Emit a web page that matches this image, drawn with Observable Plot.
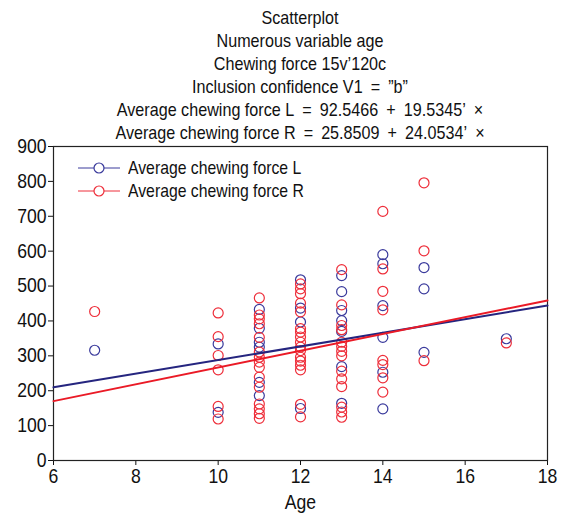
<!DOCTYPE html>
<html><head><meta charset="utf-8">
<script src="https://cdn.jsdelivr.net/npm/d3@7"></script>
<script src="https://cdn.jsdelivr.net/npm/@observablehq/plot@0.6"></script>
<style>
body{margin:0;background:#fff;}
#wrap{position:relative;width:566px;height:514px;font-family:"Liberation Sans",Arial,sans-serif;color:#111;}
#title{position:absolute;left:50px;width:500px;top:6px;text-align:center;font-size:19px;line-height:23px;transform:scaleX(0.85);transform-origin:250px 0;white-space:nowrap;}
#legend{position:absolute;left:76px;top:156px;font-size:19px;line-height:23px;}
.item{display:flex;align-items:center;height:23px;white-space:nowrap;}
.item svg{margin-right:6px;flex:none;}
.item span{display:inline-block;transform:scaleX(0.83);transform-origin:0 50%;}
#chart{position:absolute;left:0;top:0;}
</style></head>
<body>
<div id="wrap">
  <div id="chart"></div>
  <div id="title"></div>
  <div id="legend"></div>
</div>
<script>
const titleLines = [
  "Scatterplot",
  "Numerous variable age",
  "Chewing force 15v\u2019120c",
  "Inclusion confidence V1\u2002=\u2002\u201db\u201d",
  "Average chewing force L\u2002=\u200292.5466\u2002+\u200219.5345\u2019\u2002\u00d7",
  "Average chewing force R\u2002=\u200225.8509\u2002+\u200224.0534\u2019\u2002\u00d7"
];
const seriesNames = ["Average chewing force L", "Average chewing force R"];
const seriesColors = ["#3a3a9c", "#ee2e3a"];
const lineColors = ["#25257f", "#ea1a26"];

// Average chewing force L (blue)
const ageL = [7, 10,10, 11,11,11,11,11,11, 12,12,12,12, 13,13,13,13,13,13,13, 14,14,14,14,14,14, 15,15,15, 17];
const valL = [316, 334,138, 433,379,339,325,224,186, 518,437,397,149, 530,484,430,401,370,269,164, 590,564,444,353,253,148, 553,492,310, 349];

// Average chewing force R (red)
const ageR = [7,
  10,10,10,10,10,10,
  11,11,11,11,11,11,11,11,11,11,11,11,11,11,11,
  12,12,12,12,12,12,12,12,12,12,12,12,12,12,12,12,12,
  13,13,13,13,13,13,13,13,13,13,13,13,13,13,
  14,14,14,14,14,14,14,14,
  15,15,15,
  17];
const valR = [427,
  423,355,301,260,155,119,
  466,417,406,392,353,311,296,282,267,239,210,162,148,134,121,
  506,492,478,451,426,378,368,354,339,325,315,296,285,273,260,161,125,
  547,446,387,375,339,327,313,300,256,234,212,153,139,124,
  714,549,485,432,287,275,237,196,
  796,601,286,
  337];

const fitL = [92.5466, 19.5345];
const fitR = [25.8509, 24.0534];
const ageDomain = [6, 18];
const xTicks = [6, 8, 10, 12, 14, 16, 18];
const yTicks = [0, 100, 200, 300, 400, 500, 600, 700, 800, 900];

const ptsL = ageL.map((a, i) => ({age: a, v: valL[i]}));
const ptsR = ageR.map((a, i) => ({age: a, v: valR[i]}));
const lineL = ageDomain.map(a => ({age: a, v: fitL[0] + fitL[1] * a}));
const lineR = ageDomain.map(a => ({age: a, v: fitR[0] + fitR[1] * a}));

document.getElementById("title").innerHTML = titleLines.map(t => `<div>${t}</div>`).join("");
document.getElementById("legend").innerHTML = seriesNames.map((n, i) =>
  `<div class="item"><svg width="46" height="12"><line x1="2" y1="6" x2="44" y2="6" stroke="${seriesColors[i]}" stroke-width="1"/><circle cx="23" cy="6" r="5" fill="white" stroke="${seriesColors[i]}" stroke-width="1.2"/></svg><span>${n}</span></div>`
).join("");

const font = '"Liberation Sans",Arial,sans-serif';
const chart = Plot.plot({
  width: 566, height: 514,
  marginLeft: 53, marginRight: 19, marginTop: 146, marginBottom: 54,
  style: {fontFamily: font, fontSize: "20px", color: "#111", background: "white"},
  x: {domain: ageDomain},
  y: {domain: [0, 900]},
  marks: [
    Plot.axisY({ticks: yTicks, tickSize: 5, tickPadding: 2, label: null, fontSize: 20}),
    Plot.axisX({ticks: xTicks, tickSize: 5, tickPadding: 3, label: "Age", labelAnchor: "center", labelArrow: "none", labelOffset: 48, fontSize: 20}),
    Plot.frame({stroke: "#222", strokeWidth: 1.2}),
    Plot.dot(ptsL, {x: "age", y: "v", r: 5, stroke: seriesColors[0], strokeWidth: 1.2, fill: "none"}),
    Plot.dot(ptsR, {x: "age", y: "v", r: 5, stroke: seriesColors[1], strokeWidth: 1.2, fill: "none"}),
    Plot.line(lineL, {x: "age", y: "v", stroke: lineColors[0], strokeWidth: 2}),
    Plot.line(lineR, {x: "age", y: "v", stroke: lineColors[1], strokeWidth: 2})
  ]
});
// condense axis text horizontally around each label's own anchor point
chart.querySelectorAll("text").forEach(t => {
  let x = parseFloat(t.getAttribute("x")), y = parseFloat(t.getAttribute("y"));
  if (!isFinite(x)) x = 0;
  if (!isFinite(y)) y = 0;
  const tr = t.getAttribute("transform");
  const extra = `translate(${x} ${y}) scale(0.88 1) translate(${-x} ${-y})`;
  t.setAttribute("transform", tr ? `${tr} ${extra}` : extra);
});
document.getElementById("chart").appendChild(chart);
</script>
</body></html>
